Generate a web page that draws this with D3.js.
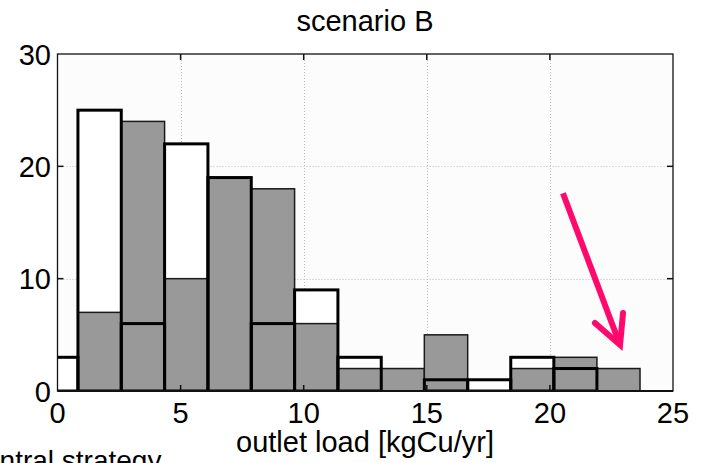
<!DOCTYPE html>
<html>
<head>
<meta charset="utf-8">
<script src="https://cdn.jsdelivr.net/npm/d3@7"></script>
<style>
  html, body { margin: 0; padding: 0; background: #fff; }
  svg { display: block; }
  text { font-family: "Liberation Sans", Arial, Helvetica, sans-serif; fill: #000; }
</style>
</head>
<body>
<svg id="chart" width="702" height="463"></svg>
<script>
// ---- data ----
const binEdges = [-0.93, 0.83, 2.59, 4.35, 6.11, 7.87, 9.63, 11.39, 13.15, 14.9, 16.66, 18.41, 20.16, 21.91, 23.66];
const hollowCounts = [3, 25, 6, 22, 19, 6, 9, 3, 0, 1, 1, 3, 2, 0];
const grayCounts   = [0, 7, 24, 10, 19, 18, 6, 2, 2, 5, 0, 2, 3, 2];
const xTicks = [0, 5, 10, 15, 20, 25];
const yTicks = [0, 10, 20, 30];
const titleText = "scenario B";
const xLabelText = "outlet load [kgCu/yr]";
const footText = "central strategy";
const arrowShaft = [[20.53, 17.6], [22.85, 4.1]];
const arrowHead = [[21.83, 6.05], [22.85, 4.1], [22.97, 6.94]];

// ---- layout ----
const svg = d3.select("#chart");
const L = 57.5, R = 673, T = 54, B = 391;
const x = d3.scaleLinear().domain([0, 25]).range([L, R]);
const y = d3.scaleLinear().domain([0, 30]).range([B, T]);

const bins = hollowCounts.map((v, i) => ({x0: binEdges[i], x1: binEdges[i + 1], h: v, g: grayCounts[i]}));

svg.append("defs").append("clipPath").attr("id", "plotclip")
  .append("rect").attr("x", L).attr("y", T).attr("width", R - L).attr("height", B - T);

// plot background
svg.append("rect").attr("x", L).attr("y", T).attr("width", R - L).attr("height", B - T).attr("fill", "#fcfcfc");

// grid
const grid = svg.append("g").attr("stroke", "#bdbdbd").attr("stroke-width", 1).attr("stroke-dasharray", "1,2");
grid.selectAll(".gx").data(xTicks.filter(d => d > 0 && d < 25)).join("line")
  .attr("x1", d => Math.round(x(d)) + 0.5).attr("x2", d => Math.round(x(d)) + 0.5).attr("y1", T).attr("y2", B);
grid.selectAll(".gy").data(yTicks.filter(d => d > 0 && d < 30)).join("line")
  .attr("y1", d => Math.round(y(d)) + 0.5).attr("y2", d => Math.round(y(d)) + 0.5).attr("x1", L).attr("x2", R);

const plot = svg.append("g").attr("clip-path", "url(#plotclip)");

// hollow white fill
plot.selectAll(".hf").data(bins.filter(d => d.h > 0)).join("rect")
  .attr("x", d => x(d.x0)).attr("width", d => x(d.x1) - x(d.x0))
  .attr("y", d => y(d.h)).attr("height", d => y(0) - y(d.h))
  .attr("fill", "#ffffff");

// gray bars
plot.selectAll(".gb").data(bins.filter(d => d.g > 0)).join("rect")
  .attr("x", d => x(d.x0)).attr("width", d => x(d.x1) - x(d.x0))
  .attr("y", d => y(d.g)).attr("height", d => y(0) - y(d.g))
  .attr("fill", "#999999").attr("stroke", "#1a1a1a").attr("stroke-width", 1.5);

// hollow outlines
plot.selectAll(".ho").data(bins.filter(d => d.h > 0)).join("rect")
  .attr("x", d => x(d.x0)).attr("width", d => x(d.x1) - x(d.x0))
  .attr("y", d => y(d.h)).attr("height", d => y(0) - y(d.h))
  .attr("fill", "none").attr("stroke", "#000").attr("stroke-width", 3);

// frame
svg.append("rect").attr("x", L).attr("y", T).attr("width", R - L).attr("height", B - T)
  .attr("fill", "none").attr("stroke", "#111").attr("stroke-width", 1.3);
svg.append("line").attr("x1", L).attr("x2", R).attr("y1", B).attr("y2", B)
  .attr("stroke", "#111").attr("stroke-width", 2);

// ticks (inward)
const tk = svg.append("g").attr("stroke", "#111").attr("stroke-width", 1.5);
const tlen = 6;
xTicks.filter(d => d > 0 && d < 25).forEach(d => {
  tk.append("line").attr("x1", x(d)).attr("x2", x(d)).attr("y1", B).attr("y2", B - tlen);
  tk.append("line").attr("x1", x(d)).attr("x2", x(d)).attr("y1", T).attr("y2", T + tlen);
});
yTicks.filter(d => d > 0 && d < 30).forEach(d => {
  tk.append("line").attr("y1", y(d)).attr("y2", y(d)).attr("x1", L).attr("x2", L + tlen);
  tk.append("line").attr("y1", y(d)).attr("y2", y(d)).attr("x1", R).attr("x2", R - tlen);
});

// tick labels
svg.selectAll(".xl").data(xTicks).join("text")
  .attr("class", "xl")
  .attr("x", d => x(d)).attr("y", 423).attr("text-anchor", "middle")
  .attr("font-size", 29).text(d => d);

svg.selectAll(".yl").data(yTicks).join("text")
  .attr("class", "yl")
  .attr("x", 51).attr("y", d => y(d) + 10.5).attr("text-anchor", "end")
  .attr("font-size", 29).text(d => d);

// title and labels
svg.append("text").attr("x", 365).attr("y", 31).attr("text-anchor", "middle")
  .attr("font-size", 29).text(titleText);
svg.append("text").attr("x", 365).attr("y", 452).attr("text-anchor", "middle")
  .attr("font-size", 29).text(xLabelText);
svg.append("text").attr("x", -30).attr("y", 470).attr("text-anchor", "start")
  .attr("font-size", 28).text(footText);

// annotation arrow
const line = d3.line().x(d => x(d[0])).y(d => y(d[1]));
const arr = svg.append("g").attr("fill", "none").attr("stroke", "#ff0a6c")
  .attr("stroke-width", 6).attr("stroke-linecap", "round").attr("stroke-linejoin", "miter");
arr.append("path").attr("d", line(arrowShaft)).attr("stroke-linecap", "butt");
arr.append("path").attr("d", line(arrowHead));
</script>
</body>
</html>
